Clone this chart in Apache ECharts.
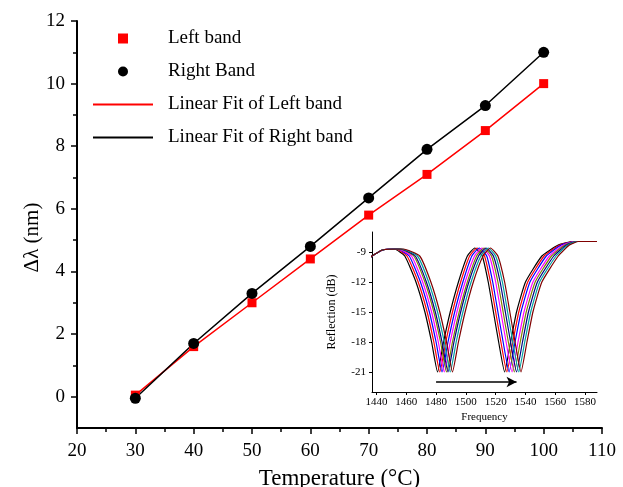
<!DOCTYPE html>
<html>
<head>
<meta charset="utf-8">
<title>Band shift vs temperature</title>
<script src="https://cdn.jsdelivr.net/npm/echarts@6/dist/echarts.min.js"></script>
<style>
  html, body { margin: 0; padding: 0; background: #fff; }
  #chart { width: 623px; height: 487px; }
</style>
</head>
<body>
<div id="chart"></div>
<script>
// main plot: band shift (nm) against temperature
var temps = [30, 40, 50, 60, 70, 80, 90, 100];
var leftBand = [0.05, 1.6, 3.0, 4.4, 5.8, 7.1, 8.5, 10.0];
var rightBand = [-0.05, 1.7, 3.3, 4.8, 6.35, 7.9, 9.3, 11.0];
var yTicks = [0, 2, 4, 6, 8, 10, 12];
var yMinorTicks = [1, 3, 5, 7, 9, 11];

// inset: reflection spectra, every curve passes the same dB levels
var dbPath = [-9.5, -8.8, -8.7, -9.4, -12, -15, -18, -21, -18, -15, -12, -9.4, -8.6,
              -9.4, -12, -15, -18, -21, -18, -15, -12, -9.4, -8.3, -7.95, -7.95];
var spec30 = [1436, 1444, 1452, 1459, 1466.5, 1472.5, 1477, 1481, 1485, 1489.5, 1495, 1501, 1506,
              1511, 1515, 1518.5, 1522, 1526, 1530, 1534, 1540, 1551, 1562, 1572, 1588];
var spec40 = [1436, 1444, 1453, 1460.5, 1468, 1474, 1478.5, 1482.5, 1486.5, 1491, 1496.5, 1502.5, 1507.5,
              1512.5, 1516.5, 1520, 1523.5, 1527.5, 1531.5, 1535.5, 1541.5, 1552.5, 1563, 1572.5, 1588];
var spec50 = [1436, 1444, 1454, 1462, 1469.5, 1475.5, 1480, 1484, 1488, 1492.5, 1498, 1504, 1509,
              1514, 1518, 1521.5, 1525, 1529, 1533, 1537, 1543, 1554, 1564, 1573, 1588];
var spec60 = [1436, 1444, 1454.5, 1463.5, 1471, 1477, 1481.5, 1485.5, 1489.5, 1494, 1499.5, 1505.8, 1510.8,
              1515.8, 1520, 1523.5, 1527, 1531, 1535, 1539, 1545, 1556, 1565.5, 1573.5, 1588];
var spec70 = [1436, 1444, 1455.5, 1465, 1472.5, 1478.5, 1483, 1487, 1491, 1495.5, 1501, 1507.2, 1512.2,
              1517.2, 1521.5, 1525, 1528.5, 1532.5, 1536.5, 1540.5, 1546.5, 1557.5, 1566.5, 1574, 1588];
var spec80 = [1436, 1444, 1456, 1466, 1473.5, 1479.5, 1484, 1488, 1492, 1496.5, 1502, 1508.5, 1513.5,
              1518.5, 1523, 1526.5, 1530, 1534, 1538, 1542, 1548, 1559, 1567.5, 1574.5, 1588];
var spec90 = [1436, 1444, 1457, 1467.5, 1475, 1481, 1485.5, 1489.5, 1493.5, 1498, 1503.5, 1510, 1515,
              1520, 1524.5, 1528, 1531.5, 1535.5, 1539.5, 1543.5, 1549.5, 1560.5, 1568.5, 1575, 1588];
var spec100 = [1436, 1444, 1458, 1469, 1476.5, 1482.5, 1487, 1491, 1495, 1499.5, 1505, 1511.5, 1516.5,
               1521.5, 1526, 1529.5, 1533, 1537, 1541, 1545, 1551, 1562, 1569.5, 1575.5, 1588];
var spectra = [spec30, spec40, spec50, spec60, spec70, spec80, spec90, spec100];
var specColors = ['#000000', '#ff0000', '#0000ff', '#ff00ff', '#808000', '#000080', '#00a0a0', '#800000'];
var freqTicks = [1440, 1460, 1480, 1500, 1520, 1540, 1560, 1580];
var dbTicks = [-21, -18, -15, -12, -9];
var arrowFrom = [1480, -22];
var arrowTo = [1534, -22];

var FONT = 'Liberation Serif';

function pairs(xs, ys) {
  var out = [];
  for (var i = 0; i < xs.length; i++) out.push([xs[i], ys[i]]);
  return out;
}

function plain(v) { return String(v); }

var chart = echarts.init(document.getElementById('chart'));

var series = [
  {
    name: 'Linear Fit of Left band',
    type: 'line',
    xAxisIndex: 0, yAxisIndex: 0,
    data: pairs(temps, leftBand),
    symbol: 'none',
    lineStyle: { color: '#ff0000', width: 1.5 },
    itemStyle: { color: '#ff0000' },
    z: 2
  },
  {
    name: 'Linear Fit of Right band',
    type: 'line',
    xAxisIndex: 0, yAxisIndex: 0,
    data: pairs(temps, rightBand),
    symbol: 'none',
    lineStyle: { color: '#000000', width: 1.5 },
    itemStyle: { color: '#000000' },
    z: 2
  },
  {
    name: 'Left band',
    type: 'scatter',
    xAxisIndex: 0, yAxisIndex: 0,
    data: pairs(temps, leftBand),
    symbol: 'rect',
    symbolSize: 9,
    itemStyle: { color: '#ff0000', opacity: 1 },
    z: 3
  },
  {
    name: 'Right Band',
    type: 'scatter',
    xAxisIndex: 0, yAxisIndex: 0,
    data: pairs(temps, rightBand),
    symbol: 'circle',
    symbolSize: 11,
    itemStyle: { color: '#000000', opacity: 1 },
    z: 4
  }
];

spectra.forEach(function (xs, i) {
  var s = {
    name: 'spec' + temps[i],
    type: 'line',
    xAxisIndex: 1, yAxisIndex: 2,
    data: pairs(xs, dbPath),
    symbol: 'none',
    smooth: 0.15,
    lineStyle: { color: specColors[i], width: 1.2 },
    silent: true
  };
  if (i === 0) {
    // shift direction arrow
    s.markLine = {
      silent: true,
      symbol: ['none', 'arrow'],
      symbolSize: [8, 10],
      label: { show: false },
      lineStyle: { color: '#000', width: 1.5, type: 'solid' },
      data: [[{ coord: arrowFrom }, { coord: arrowTo }]]
    };
  }
  series.push(s);
});

var squareIcon = 'path://M0,0 L10,0 L10,10 L0,10 Z';
var lineIcon = 'path://M0,0 L60,0 L60,2 L0,2 Z';

var option = {
  backgroundColor: '#fff',
  animation: false,
  legend: {
    data: [
      { name: 'Left band', icon: squareIcon, itemStyle: { color: '#ff0000', opacity: 1 } },
      { name: 'Right Band', icon: 'circle', itemStyle: { color: '#000000', opacity: 1 } },
      { name: 'Linear Fit of Left band', icon: lineIcon, itemStyle: { color: '#ff0000' } },
      { name: 'Linear Fit of Right band', icon: lineIcon, itemStyle: { color: '#000000' } }
    ],
    orient: 'vertical',
    left: 93,
    top: 29,
    padding: 0,
    itemWidth: 60,
    itemHeight: 10,
    itemGap: 14,
    selectedMode: false,
    textStyle: { fontFamily: FONT, fontSize: 19, color: '#000', padding: [0, 0, 0, 10] }
  },
  grid: [
    { left: 77, right: 21, top: 21, bottom: 59, outerBoundsMode: 'none' },
    { left: 372, right: 26, top: 232, bottom: 95, outerBoundsMode: 'none' }
  ],
  xAxis: [
    {
      gridIndex: 0,
      type: 'value',
      min: 20, max: 110, interval: 10,
      name: 'Temperature (°C)',
      nameLocation: 'middle',
      nameGap: 39,
      nameMoveOverlap: false,
      nameTextStyle: { fontFamily: FONT, fontSize: 23, color: '#000' },
      axisLine: { onZero: false, lineStyle: { color: '#000', width: 2 } },
      axisTick: { length: 6, lineStyle: { color: '#000', width: 1.5 } },
      minorTick: { show: true, splitNumber: 2, length: 4, lineStyle: { color: '#000', width: 1.5 } },
      axisLabel: { fontFamily: FONT, fontSize: 19, color: '#000', margin: 14 },
      splitLine: { show: false }
    },
    {
      gridIndex: 1,
      type: 'value',
      min: 1437, max: 1588,
      name: 'Frequency',
      nameLocation: 'middle',
      nameGap: 20,
      nameMoveOverlap: false,
      nameTextStyle: { fontFamily: FONT, fontSize: 11, color: '#000' },
      axisLine: { onZero: false, lineStyle: { color: '#000', width: 1 } },
      axisTick: { length: 3, customValues: freqTicks, lineStyle: { color: '#000' } },
      axisLabel: { fontFamily: FONT, fontSize: 11, color: '#000', margin: 5, customValues: freqTicks, formatter: plain },
      splitLine: { show: false }
    }
  ],
  yAxis: [
    {
      gridIndex: 0,
      type: 'value',
      min: -1, max: 12,
      name: 'Δλ (nm)',
      nameLocation: 'middle',
      nameGap: 34,
      nameMoveOverlap: false,
      nameTextStyle: { fontFamily: FONT, fontSize: 21, color: '#000', padding: [0, 26, 0, 0] },
      axisLine: { show: true, onZero: false, lineStyle: { color: '#000', width: 2 } },
      axisTick: { show: true, length: 6, customValues: yTicks, lineStyle: { color: '#000', width: 1.5 } },
      axisLabel: { fontFamily: FONT, fontSize: 19, color: '#000', margin: 12, customValues: yTicks },
      splitLine: { show: false }
    },
    {
      // minor ticks only
      gridIndex: 0,
      type: 'value',
      position: 'left',
      min: -1, max: 12,
      axisLine: { show: false, onZero: false },
      axisTick: { show: true, length: 4, customValues: yMinorTicks, lineStyle: { color: '#000', width: 1.5 } },
      axisLabel: { show: false },
      splitLine: { show: false }
    },
    {
      gridIndex: 1,
      type: 'value',
      min: -23, max: -7,
      name: 'Reflection (dB)',
      nameLocation: 'middle',
      nameGap: 34,
      nameMoveOverlap: false,
      nameTextStyle: { fontFamily: FONT, fontSize: 12, color: '#000' },
      axisLine: { show: true, onZero: false, lineStyle: { color: '#000', width: 1 } },
      axisTick: { show: true, length: 3, customValues: dbTicks, lineStyle: { color: '#000' } },
      axisLabel: { fontFamily: FONT, fontSize: 11, color: '#000', margin: 6, customValues: dbTicks, formatter: plain },
      splitLine: { show: false }
    }
  ],
  series: series
};

chart.setOption(option);
</script>
</body>
</html>
